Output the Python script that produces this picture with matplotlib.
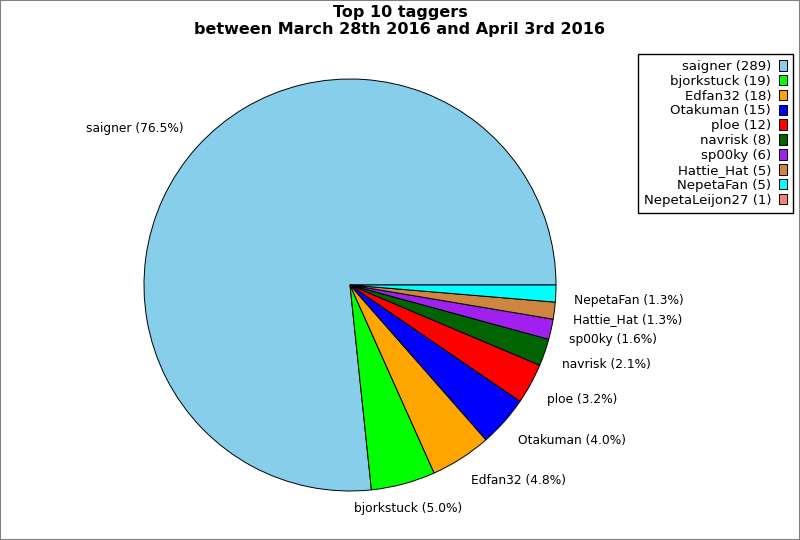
import matplotlib
matplotlib.use("Agg")
import matplotlib.pyplot as plt
from matplotlib.patches import Rectangle

# data
names = ["saigner", "bjorkstuck", "Edfan32", "Otakuman", "ploe",
         "navrisk", "sp00ky", "Hattie_Hat", "NepetaFan", "NepetaLeijon27"]
counts = [289, 19, 18, 15, 12, 8, 6, 5, 5, 1]
colors = ["#87CEEB", "#00FF00", "#FFA500", "#0000FF", "#FF0000",
          "#006400", "#A020F0", "#CD853F", "#00FFFF", "#FA8072"]

total = sum(counts)
pcts = [100.0 * c / total for c in counts]

# slices under 1% are not drawn in the pie (only in the legend)
shown = [i for i, p in enumerate(pcts) if p >= 1.0]

fig = plt.figure(figsize=(8, 5.4), dpi=100)
ax = fig.add_axes([144 / 800, 49 / 540, 412 / 800, 412 / 540])

wedges, texts = ax.pie(
    [counts[i] for i in shown],
    labels=[f"{names[i]} ({pcts[i]:.1f}%)" for i in shown],
    colors=[colors[i] for i in shown],
    startangle=0,
    counterclock=True,
    labeldistance=1.09,
    wedgeprops={"edgecolor": "black", "linewidth": 0.7},
    textprops={"fontsize": 8.8},
)
ax.set_xlim(-1, 1)
ax.set_ylim(-1, 1)
ax.set_aspect("equal")

# labels hang below the anchor in the lower half, sit above it in the upper half
for t in texts:
    x, y = t.get_position()
    t.set_va("top" if y < 0 else "bottom")
# label close to the bottom is centred
texts[1].set_ha("center")

fig.suptitle("Top 10 taggers\nbetween March 28th 2016 and April 3rd 2016",
             fontsize=11.5, fontweight="bold", y=0.99, linespacing=1.1)

handles = [Rectangle((0, 0), 1, 1, facecolor=c, edgecolor="black", linewidth=0.7)
           for c in colors]
legend_labels = [f"{n} ({c})" for n, c in zip(names, counts)]
fig.legend(
    handles, legend_labels,
    loc="upper right",
    bbox_to_anchor=(793 / 800, 1 - 54 / 540),
    markerfirst=False,
    fancybox=False,
    edgecolor="black",
    framealpha=1,
    fontsize=9.5,
    handlelength=0.6,
    handleheight=0.85,
    handletextpad=0.6,
    labelspacing=0.14,
    borderpad=0.45,
    borderaxespad=0,
)

# border round the figure
fig.patches.append(Rectangle((0, 0), 1, 1, transform=fig.transFigure,
                             fill=False, edgecolor="grey", linewidth=1.5))

fig.savefig("out.png", dpi=100)
